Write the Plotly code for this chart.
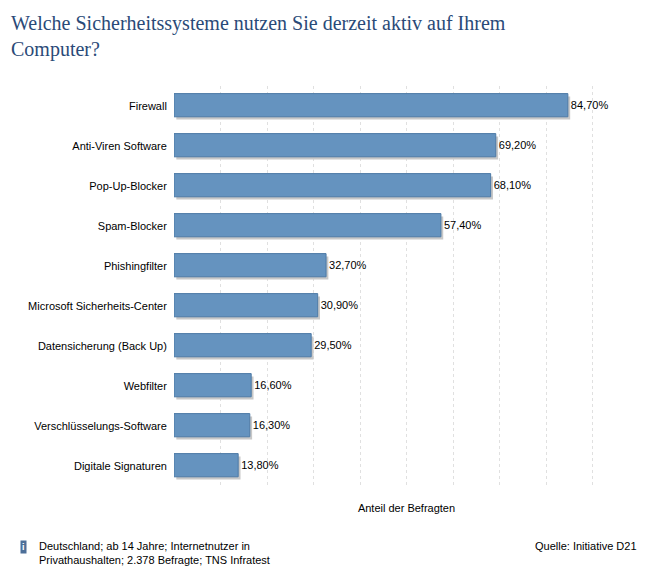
import plotly.graph_objects as go

categories = ['Firewall', 'Anti-Viren Software', 'Pop-Up-Blocker', 'Spam-Blocker', 'Phishingfilter',
              'Microsoft Sicherheits-Center', 'Datensicherung (Back Up)', 'Webfilter',
              'Verschlüsselungs-Software', 'Digitale Signaturen']
values = [84.7, 69.2, 68.1, 57.4, 32.7, 30.9, 29.5, 16.6, 16.3, 13.8]
labels = [f'{v:.2f}%'.replace('.', ',') for v in values]

fig = go.Figure()
# shadow
fig.add_trace(go.Bar(y=categories, x=values, orientation='h', base=0.5, width=0.58,
                     marker=dict(color='#c8c8c8', line_width=0), offset=-0.24,
                     hoverinfo='skip', showlegend=False))
fig.add_trace(go.Bar(y=categories, x=values, orientation='h', width=0.58, offset=-0.31,
                     marker=dict(color='#6593bf', line=dict(color='#4d7aa6', width=1)),
                     text=labels, textposition='outside', cliponaxis=False,
                     textfont=dict(family='Arial, Liberation Sans', size=11, color='#000'),
                     showlegend=False))

fig.update_layout(
    width=647, height=570, barmode='overlay',
    paper_bgcolor='white', plot_bgcolor='white',
    margin=dict(l=166, r=16, t=78, b=92),
    font=dict(family='Arial, Liberation Sans', size=11, color='#000'),
)
fig.update_xaxes(range=[0, 100], dtick=10, showticklabels=False, showgrid=True,
                 gridcolor='#e0e0e0', griddash='dot', zeroline=False,
                 title=dict(text='Anteil der Befragten', font=dict(size=11), standoff=18))
fig.update_yaxes(autorange='reversed', ticks='', ticksuffix='  ', showline=False)

fig.add_annotation(text='Welche Sicherheitssysteme nutzen Sie derzeit aktiv auf Ihrem<br>Computer?',
                   xref='paper', yref='paper', x=-0.355, y=1.19, xanchor='left', yanchor='top',
                   align='left', showarrow=False,
                   font=dict(family='Liberation Serif, Times New Roman', size=20, color='#2a4a78'))
fig.add_annotation(text='Deutschland; ab 14 Jahre; Internetnutzer in<br>Privathaushalten; 2.378 Befragte; TNS Infratest',
                   xref='paper', yref='paper', x=-0.295, y=-0.13, xanchor='left', yanchor='top',
                   align='left', showarrow=False, font=dict(size=11))
fig.add_annotation(text='<b>i</b>', xref='paper', yref='paper', x=-0.332, y=-0.135,
                   xanchor='left', yanchor='top', showarrow=False, bgcolor='#4d6f99',
                   font=dict(size=9, color='white'))
fig.add_annotation(text='Quelle: Initiative D21', xref='paper', yref='paper', x=1.0, y=-0.13,
                   xanchor='right', yanchor='top', showarrow=False, font=dict(size=11))

fig.write_html('out.html')
